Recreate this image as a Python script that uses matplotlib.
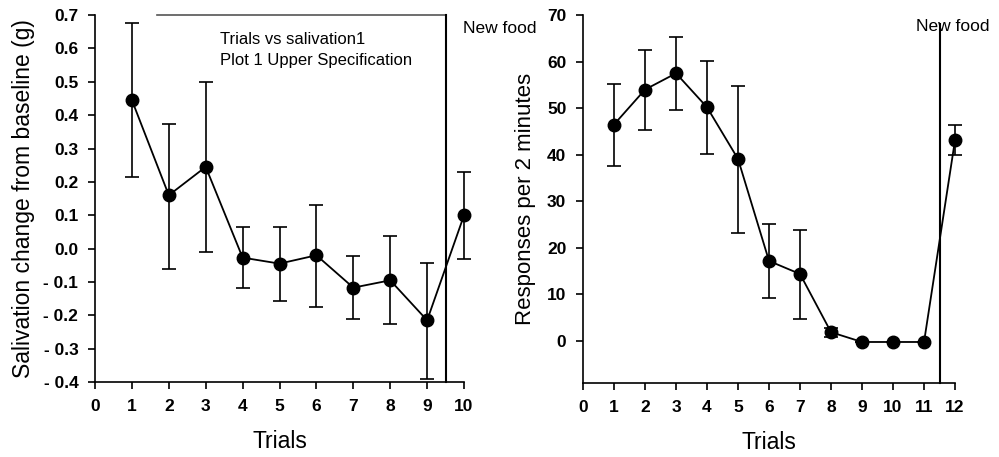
import matplotlib
matplotlib.use("Agg")
import matplotlib.pyplot as plt

plt.rcParams['font.family'] = ['Liberation Sans', 'DejaVu Sans']

# Left panel data
trials_l = [1, 2, 3, 4, 5, 6, 7, 8, 9, 10]
sal_mean = [0.445, 0.160, 0.245, -0.027, -0.045, -0.020, -0.117, -0.095, -0.215, 0.100]
sal_hi = [0.675, 0.375, 0.500, 0.065, 0.065, 0.132, -0.022, 0.037, -0.042, 0.230]
sal_lo = [0.215, -0.060, -0.010, -0.118, -0.158, -0.175, -0.210, -0.227, -0.390, -0.032]
yticks_l = [-0.4, -0.3, -0.2, -0.1, 0.0, 0.1, 0.2, 0.3, 0.4, 0.5, 0.6, 0.7]
yticklabels_l = ["- 0.4", "- 0.3", "- 0.2", "- 0.1", "0.0", "0.1", "0.2", "0.3", "0.4", "0.5", "0.6", "0.7"]
xticks_l = list(range(0, 11))

# Right panel data
trials_r = [1, 2, 3, 4, 5, 6, 7, 8, 9, 10, 11, 12]
resp_mean = [46.5, 54.0, 57.5, 50.2, 39.1, 17.2, 14.4, 1.9, -0.2, -0.2, -0.2, 43.2]
resp_hi = [55.3, 62.6, 65.3, 60.1, 54.8, 25.2, 23.9, 2.9, -0.2, -0.2, -0.2, 46.5]
resp_lo = [37.6, 45.3, 49.6, 40.1, 23.3, 9.3, 4.8, 0.8, -0.2, -0.2, -0.2, 40.0]
yticks_r = [0, 10, 20, 30, 40, 50, 60, 70]
xticks_r = list(range(0, 13))

fig = plt.figure(figsize=(9.99, 4.57), dpi=100)
axL = fig.add_axes([0.0951, 0.164, 0.3694, 0.803])
axR = fig.add_axes([0.5836, 0.162, 0.3724, 0.805])

tickfont = dict(fontsize=12.5, fontweight='bold')

def style(ax):
    for s in ['top', 'right']:
        ax.spines[s].set_visible(False)
    for s in ['left', 'bottom']:
        ax.spines[s].set_linewidth(1.2)
    ax.tick_params(direction='out', length=5, width=1.2, pad=7)

# Left
errL = [[m - l for m, l in zip(sal_mean, sal_lo)], [h - m for m, h in zip(sal_mean, sal_hi)]]
axL.errorbar(trials_l, sal_mean, yerr=errL, fmt='-o', color='black', ms=9, lw=1.3,
             elinewidth=1.2, capsize=5, capthick=1.2, clip_on=False, zorder=3)
axL.set_xlim(0, 10)
axL.set_ylim(-0.4, 0.7)
axL.set_yticks(yticks_l)
axL.set_yticklabels(yticklabels_l, **tickfont)
axL.set_xticks(xticks_l)
axL.set_xticklabels([str(t) for t in xticks_l], **tickfont)
style(axL)
axL.plot([1.67, 9.5], [0.7, 0.7], color='#555555', lw=1.2, clip_on=False)
axL.plot([9.5, 9.5], [-0.4, 0.7], color='black', lw=1.5, clip_on=False)
axL.text(3.39, 0.628, "Trials vs salivation1", fontsize=12, va='center')
axL.text(3.39, 0.565, "Plot 1 Upper Specification", fontsize=12, va='center')
axL.text(10.98, 0.661, "New food", fontsize=12.5, ha='center', va='center')
axL.set_xlabel("Trials", fontsize=16.5, labelpad=12)
axL.set_ylabel("Salivation change from baseline (g)", fontsize=16.5, labelpad=6)

# Right
errR = [[m - l for m, l in zip(resp_mean, resp_lo)], [h - m for m, h in zip(resp_mean, resp_hi)]]
axR.errorbar(trials_r, resp_mean, yerr=errR, fmt='-o', color='black', ms=9, lw=1.3,
             elinewidth=1.2, capsize=5, capthick=1.2, clip_on=False, zorder=3)
axR.set_xlim(0, 12)
axR.set_ylim(-9, 70)
axR.set_yticks(yticks_r)
axR.set_yticklabels([str(t) for t in yticks_r], **tickfont)
axR.set_xticks(xticks_r)
axR.set_xticklabels([str(t) for t in xticks_r], **tickfont)
style(axR)
axR.plot([11.5, 11.5], [-9, 68], color='black', lw=1.5, clip_on=False)
axR.text(11.94, 67.6, "New food", fontsize=12.5, ha='center', va='center', zorder=4)
axR.set_xlabel("Trials", fontsize=16.5, labelpad=12)
axR.set_ylabel("Responses per 2 minutes", fontsize=16, labelpad=8)

fig.savefig("out.png", dpi=100)
